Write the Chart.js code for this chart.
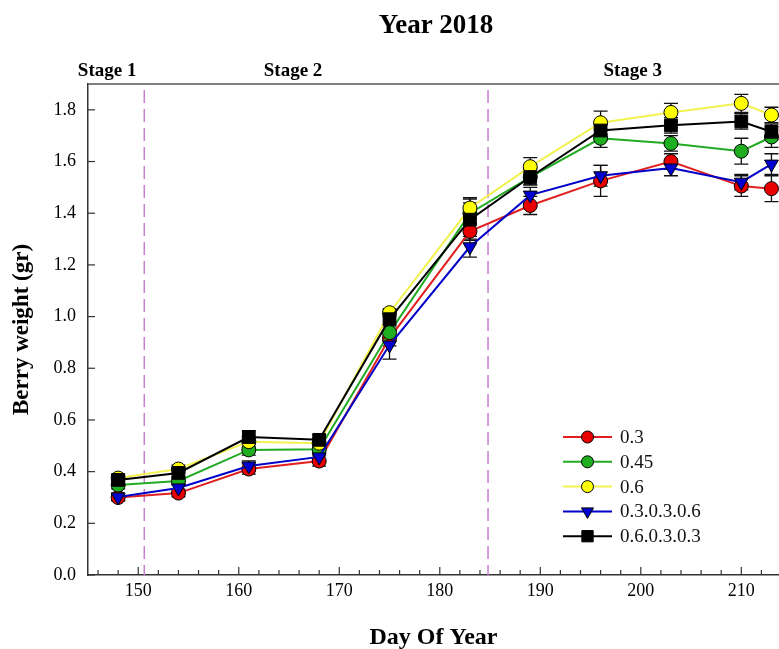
<!DOCTYPE html>
<html>
<head>
<meta charset="utf-8">
<script src="https://cdn.jsdelivr.net/npm/chart.js@4"></script>
<style>
  body { margin: 0; background: #fff; overflow: hidden; }
</style>
</head>
<body>
<canvas id="c" width="779" height="649"></canvas>
<script>
// day of year of each sampling
const days = [148, 154, 161, 168, 175, 183, 189, 196, 203, 210, 213]

// mean berry weight (gr) per treatment
const w03 = [0.30, 0.317, 0.41, 0.441, 0.917, 1.33, 1.43, 1.525, 1.60, 1.505, 1.495]
const w045 = [0.348, 0.364, 0.484, 0.487, 0.938, 1.40, 1.54, 1.69, 1.67, 1.64, 1.695]
const w06 = [0.375, 0.41, 0.516, 0.51, 1.015, 1.42, 1.58, 1.75, 1.79, 1.825, 1.78]
const w03036 = [0.302, 0.337, 0.422, 0.457, 0.89, 1.27, 1.47, 1.545, 1.575, 1.52, 1.59]
const w06033 = [0.368, 0.395, 0.534, 0.523, 0.99, 1.375, 1.54, 1.72, 1.74, 1.755, 1.715]

// error bar half-lengths
const e03 = [0.012, 0.015, 0.02, 0.02, 0.03, 0.03, 0.035, 0.06, 0.03, 0.04, 0.05]
const e045 = [0.015, 0.015, 0.02, 0.02, 0.03, 0.04, 0.03, 0.035, 0.03, 0.05, 0.04]
const e06 = [0.015, 0.015, 0.02, 0.02, 0.015, 0.04, 0.035, 0.045, 0.035, 0.035, 0.03]
const e03036 = [0.015, 0.015, 0.02, 0.02, 0.055, 0.04, 0.03, 0.04, 0.03, 0.03, 0.04]
const e06033 = [0.015, 0.015, 0.025, 0.02, 0.03, 0.08, 0.03, 0.03, 0.03, 0.03, 0.03]

const labels = ['0.3', '0.45', '0.6', '0.3.0.3.0.6', '0.6.0.3.0.3']
const xTicks = [150, 160, 170, 180, 190, 200, 210]
const yTicks = [0, 0.2, 0.4, 0.6, 0.8, 1.0, 1.2, 1.4, 1.6, 1.8]

// stage boundaries and stage label positions (day of year)
const stageBounds = [150.6, 184.8]
const stageNames = ['Stage 1', 'Stage 2', 'Stage 3']
const stageAt = [146.9, 165.4, 199.2]

const serif = '"Liberation Serif", "Times New Roman", serif'

function pts(vals) {
    return days.map((d, i) => ({ x: d, y: vals[i] }))
}

const decor = {
    id: 'decor',
    beforeDatasetsDraw(chart) {
        const { ctx, chartArea: a, scales: { x, y } } = chart
        ctx.save()
        // stage separators
        ctx.strokeStyle = '#c77fd0'
        ctx.lineWidth = 1.5
        ctx.setLineDash([13, 6])
        stageBounds.forEach(d => {
            const px = x.getPixelForValue(d)
            ctx.beginPath()
            ctx.moveTo(px, a.top + 6)
            ctx.lineTo(px, a.bottom)
            ctx.stroke()
        })
        ctx.setLineDash([])

        // inward ticks
        ctx.strokeStyle = '#333'
        ctx.lineWidth = 1.2
        for (let d = 146; d <= 212; d += 2) {
            const px = x.getPixelForValue(d)
            const len = d % 10 === 0 ? 8 : 5
            ctx.beginPath()
            ctx.moveTo(px, a.bottom)
            ctx.lineTo(px, a.bottom - len)
            ctx.stroke()
        }
        yTicks.forEach(v => {
            const py = y.getPixelForValue(v)
            ctx.beginPath()
            ctx.moveTo(a.left, py)
            ctx.lineTo(a.left + 7, py)
            ctx.stroke()
        })

        // error bars
        ctx.strokeStyle = '#111'
        ctx.lineWidth = 1.3
        chart.data.datasets.forEach(ds => {
            ds.data.forEach((p, i) => {
                const px = x.getPixelForValue(p.x)
                const t = y.getPixelForValue(p.y + ds.errors[i])
                const b = y.getPixelForValue(p.y - ds.errors[i])
                ctx.beginPath()
                ctx.moveTo(px, t); ctx.lineTo(px, b)
                ctx.moveTo(px - 7, t); ctx.lineTo(px + 7, t)
                ctx.moveTo(px - 7, b); ctx.lineTo(px + 7, b)
                ctx.stroke()
            })
        })
        ctx.restore()
    },
    afterDraw(chart) {
        const { ctx, chartArea: a, scales: { x } } = chart
        ctx.save()
        // top frame line
        ctx.strokeStyle = '#555'
        ctx.lineWidth = 1.5
        ctx.beginPath()
        ctx.moveTo(a.left, a.top)
        ctx.lineTo(a.right, a.top)
        ctx.stroke()

        ctx.fillStyle = '#000'
        ctx.textAlign = 'center'
        ctx.textBaseline = 'middle'
        ctx.font = 'bold 27px ' + serif
        ctx.fillText('Year 2018', 436, a.top - 58)

        ctx.font = 'bold 19px ' + serif
        stageNames.forEach((s, i) => {
            ctx.fillText(s, x.getPixelForValue(stageAt[i]), a.top - 13)
        })

        // legend, bottom right inside the plot
        const lx = a.left + 475
        let ly = a.bottom - 138
        ctx.textAlign = 'left'
        ctx.font = '19px ' + serif
        chart.data.datasets.forEach(ds => {
            ctx.strokeStyle = ds.borderColor
            ctx.lineWidth = 2
            ctx.beginPath()
            ctx.moveTo(lx, ly)
            ctx.lineTo(lx + 49, ly)
            ctx.stroke()
            ctx.fillStyle = ds.pointBackgroundColor
            ctx.strokeStyle = '#000'
            ctx.lineWidth = 1
            Chart.helpers.drawPoint(ctx, {
                pointStyle: ds.pointStyle,
                rotation: ds.pointRotation || 0,
                radius: ds.pointRadius - 1,
                borderWidth: 1
            }, lx + 24.5, ly)
            ctx.fillStyle = '#111'
            ctx.fillText(ds.label, lx + 57, ly + 1)
            ly += 24.8
        })
        ctx.restore()
    }
}

function series(i, vals, errs, line, fill, style, radius, rot) {
    return {
        label: labels[i],
        data: pts(vals),
        errors: errs,
        borderColor: line,
        backgroundColor: fill,
        pointBackgroundColor: fill,
        pointBorderColor: '#000',
        pointBorderWidth: 1,
        pointStyle: style,
        pointRadius: radius,
        pointRotation: rot || 0,
        borderWidth: 2,
        tension: 0,
        order: 5 - i
    }
}

new Chart(document.getElementById('c'), {
    type: 'line',
    data: {
        datasets: [
            series(0, w03, e03, '#e02020', '#e80000', 'circle', 7),
            series(1, w045, e045, '#22aa22', '#1fae1f', 'circle', 7),
            series(2, w06, e06, '#f2f250', '#ffff00', 'circle', 7),
            series(3, w03036, e03036, '#0000c8', '#0000d0', 'triangle', 8, 180),
            series(4, w06033, e06033, '#000000', '#000000', 'rect', 9)
        ]
    },
    options: {
        responsive: false,
        devicePixelRatio: 1,
        animation: false,
        layout: { autoPadding: false, padding: { top: 84, right: 0, left: 0, bottom: 0 } },
        scales: {
            x: {
                type: 'linear',
                min: 145,
                max: 213.75,
                afterBuildTicks: s => { s.ticks = xTicks.map(v => ({ value: v })) },
                afterFit: s => { s.height = 74 },
                ticks: {
                    color: '#000',
                    padding: 5,
                    font: { family: serif, size: 18 }
                },
                grid: { display: false, drawTicks: false },
                border: { display: true, color: '#333', width: 1.5 },
                title: {
                    display: true,
                    text: 'Day Of Year',
                    color: '#000',
                    font: { family: serif, size: 24, weight: 'bold' },
                    padding: { top: 4, bottom: -3 }
                }
            },
            y: {
                min: 0,
                max: 1.9,
                afterBuildTicks: s => { s.ticks = yTicks.map(v => ({ value: v })) },
                afterFit: s => { s.width = 88 },
                ticks: {
                    color: '#000',
                    padding: 12,
                    font: { family: serif, size: 18 },
                    callback: v => v.toFixed(1)
                },
                grid: { display: false, drawTicks: false },
                border: { display: true, color: '#333', width: 1.5 },
                title: {
                    display: true,
                    text: 'Berry weight (gr)',
                    color: '#000',
                    font: { family: serif, size: 23, weight: 'bold' },
                    padding: { top: 8, bottom: 0 }
                }
            }
        },
        plugins: {
            legend: { display: false },
            tooltip: { enabled: false }
        }
    },
    plugins: [decor]
})
</script>
</body>
</html>
